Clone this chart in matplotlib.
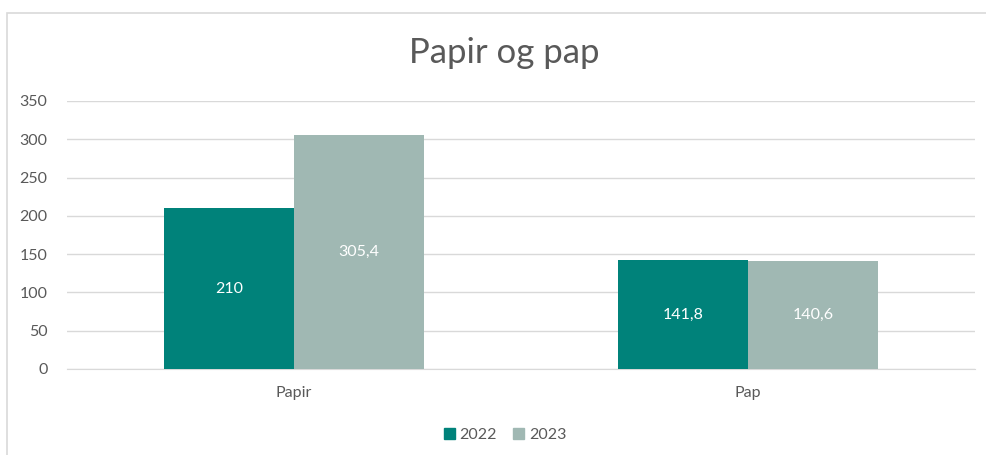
import matplotlib
matplotlib.use("Agg")
import matplotlib.pyplot as plt
from matplotlib.patches import Rectangle, Patch
import numpy as np

categories = ["Papir", "Pap"]
years = ["2022", "2023"]
values_2022 = [210, 141.8]
values_2023 = [305.4, 140.6]
labels_2022 = ["210", "141,8"]
labels_2023 = ["305,4", "140,6"]
yticks = [0, 50, 100, 150, 200, 250, 300, 350]

plt.rcParams['font.family'] = ['Lato', 'DejaVu Sans']
c22 = "#00827A"
c23 = "#A0B8B3"
txt = "#595959"

W, H = 987, 455
fig = plt.figure(figsize=(W/100, H/100), dpi=100)
fig.patch.set_facecolor("white")
fig.patches.append(Rectangle((7/W, -0.1), 1.2, (H-13)/H + 0.1, transform=fig.transFigure,
                             fill=False, edgecolor="#D9D9D9", linewidth=1.2))

ax = fig.add_axes([67/W, 86/H, (975-67)/W, (369-101)/H])
x = np.arange(len(categories))
bw = 130/454
b1 = ax.bar(x - bw/2, values_2022, bw, color=c22, label=years[0], zorder=3)
b2 = ax.bar(x + bw/2, values_2023, bw, color=c23, label=years[1], zorder=3)
for bars, labs in ((b1, labels_2022), (b2, labels_2023)):
    for r, l in zip(bars, labs):
        ax.text(r.get_x() + r.get_width()/2, r.get_height()/2, l, ha="center", va="center",
                color="white", fontsize=11.5, zorder=4)

ax.set_xlim(-0.5, 1.5)
ax.set_ylim(0, 350)
ax.set_yticks(yticks)
ax.set_yticklabels([str(t) for t in yticks], color=txt, fontsize=11.5)
ax.set_xticks(x)
ax.set_xticklabels(categories, color=txt, fontsize=11.5)
ax.tick_params(axis="both", length=0)
ax.tick_params(axis="y", pad=14)
ax.tick_params(axis="x", pad=12)
ax.grid(axis="y", color="#D9D9D9", linewidth=1, zorder=0)
for s in ax.spines.values():
    s.set_visible(False)
ax.spines["bottom"].set_visible(True)
ax.spines["bottom"].set_color("#D9D9D9")

fig.text(504/W, 1 - 53/H, "Papir og pap", ha="center", va="center", fontsize=25, color=txt)

handles = [Patch(color=c22), Patch(color=c23)]
fig.legend(handles, years, loc="center", bbox_to_anchor=(505/W, 1 - 435/H), ncol=2,
           frameon=False, fontsize=11.5, labelcolor=txt, handlelength=0.7, handleheight=0.7,
           handletextpad=0.3, columnspacing=1.0)

fig.savefig("out.png", dpi=100, facecolor="white")
